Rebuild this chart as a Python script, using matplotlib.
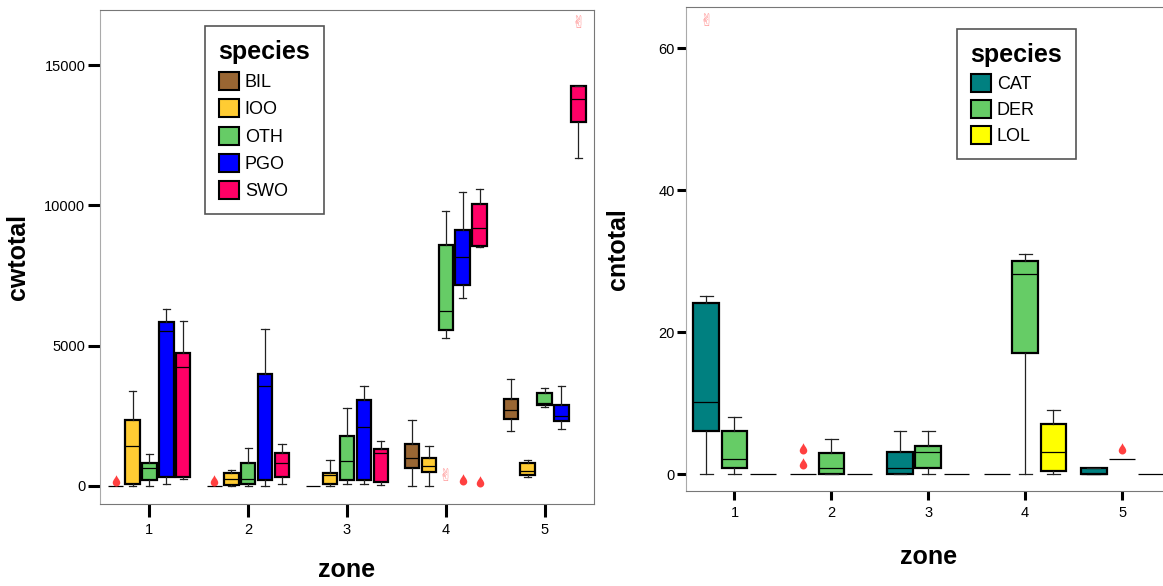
import matplotlib
matplotlib.use("Agg")
import matplotlib.pyplot as plt
from matplotlib.patches import Patch
from matplotlib.path import Path

plt.rcParams['font.family'] = ['Liberation Sans', 'DejaVu Sans']

zones = [1, 2, 3, 4, 5]

# left chart (cwtotal), one row per zone: [whislo, q1, med, q3, whishi]
cw_species = ["BIL", "IOO", "OTH", "PGO", "SWO"]
cw_colors = ["#996633", "#ffcc33", "#66cc66", "#0000ff", "#ff0066"]
cw_bil = [[0, 0, 0, 0, 0], [0, 0, 0, 0, 0], [0, 0, 0, 0, 0],
          [0, 627, 994, 1493, 2349], [1967, 2395, 2716, 3086, 3799]]
cw_ioo = [[0, 78, 1422, 2338, 3372], [0, 21, 235, 460, 567], [0, 68, 378, 449, 934],
          [0, 506, 709, 1005, 1422], [328, 399, 520, 805, 923]]
cw_oth = [[0, 200, 627, 816, 1126], [0, 78, 257, 816, 1361], [78, 200, 877, 1789, 2766],
          [5271, 5567, 6244, 8575, 9797], [2823, 2873, 2965, 3300, 3500]]
cw_pgo = [[78, 317, 5510, 5831, 6305], [0, 200, 3550, 3977, 5581], [78, 200, 2088, 3072, 3550],
          [6686, 7160, 8147, 9110, 10464], [2017, 2324, 2491, 2873, 3560]]
cw_swo = [[257, 317, 4227, 4737, 5888], [78, 317, 816, 1173, 1483], [21, 139, 1162, 1304, 1611],
          [8514, 8561, 9181, 10036, 10581], [11686, 12959, 13779, 14252, 14252]]
cw_out_zone = [1, 2, 4, 4]
cw_out_species = ["BIL", "BIL", "PGO", "SWO"]
cw_out_value = [164, 164, 210, 150]
cw_ext_zone = [4, 5]
cw_ext_species = ["OTH", "SWO"]
cw_ext_value = [353, 16509]

# right chart (cntotal)
cn_species = ["CAT", "DER", "LOL"]
cn_colors = ["#008080", "#66cc66", "#ffff00"]
cn_cat = [[0, 6.14, 10.14, 24.17, 25.1], [0, 0, 0, 0, 0], [0, 0, 0.93, 3.1, 6.14],
          [0, 0, 0, 0, 0], [0, 0, 0, 0.93, 0.93]]
cn_der = [[0, 0.93, 2.11, 6.14, 8.03], [0, 0, 0.93, 3.04, 4.93], [0, 0.89, 3.1, 3.99, 6.14],
          [0, 17.04, 28.17, 30.04, 30.99], [2.11, 2.11, 2.11, 2.11, 2.11]]
cn_lol = [[0, 0, 0, 0, 0], [0, 0, 0, 0, 0], [0, 0, 0, 0, 0],
          [0, 0.46, 3.1, 7.13, 9.01], [0, 0, 0, 0, 0]]
cn_out_zone = [2, 2, 5]
cn_out_species = ["CAT", "CAT", "DER"]
cn_out_value = [3.52, 1.45, 3.56]
cn_ext_zone = [1]
cn_ext_species = ["CAT"]
cn_ext_value = [63.9]

# droplet shaped marker for outliers
drop = Path([(0, 1), (0.15, 0.6), (0.6, 0.2), (0.6, -0.2),
             (0.6, -0.55), (0.3, -0.8), (0, -0.8),
             (-0.3, -0.8), (-0.6, -0.55), (-0.6, -0.2),
             (-0.6, 0.2), (-0.15, 0.6), (0, 1), (0, 1)],
            [Path.MOVETO] + [Path.CURVE4] * 12 + [Path.CLOSEPOLY])


def offset(species, sp, slot):
    i = species.index(sp)
    return (i - (len(species) - 1) / 2) * slot


def draw_boxes(ax, species, colors, stats, slot, width):
    for sp, col, rows in zip(species, colors, stats):
        off = offset(species, sp, slot)
        for z, (lo, q1, med, q3, hi) in zip(zones, rows):
            x = z + off
            if q1 == q3 and lo == hi:
                ax.hlines(med, x - width / 2, x + width / 2, color='black', lw=0.9, zorder=3)
                continue
            st = dict(whislo=lo, q1=q1, med=med, q3=q3, whishi=hi, fliers=[])
            ax.bxp([st], positions=[x], widths=width, capwidths=width / 2,
                   patch_artist=True, showfliers=False, manage_ticks=False,
                   boxprops=dict(facecolor=col, edgecolor='black', linewidth=1.6),
                   medianprops=dict(color='black', linewidth=0.9),
                   whiskerprops=dict(color='#222222', linewidth=0.9),
                   capprops=dict(color='#222222', linewidth=0.9))


def draw_outliers(ax, species, slot, oz, osp, ov, ez, esp, ev):
    xs = [z + offset(species, s, slot) for z, s in zip(oz, osp)]
    ax.plot(xs, ov, linestyle='none', marker=drop, markersize=9,
            color='#ff4040', markeredgewidth=0, zorder=4)
    for z, s, v in zip(ez, esp, ev):
        ax.text(z + offset(species, s, slot), v, "\u270c", family=['DejaVu Sans'],
                color='#ff9090', fontsize=12, ha='center', va='center', zorder=4)


def style_axis(ax, ylabel, ticklen, xpad):
    ax.set_xlim(0.5, 5.5)
    ax.set_xticks(zones)
    ax.tick_params(axis='both', direction='out', length=ticklen, width=2.2,
                   color='black', labelsize=10.5)
    ax.tick_params(axis='y', pad=1.5)
    ax.tick_params(axis='x', pad=xpad)
    for side in ['top', 'bottom', 'right']:
        ax.spines[side].set_color('#777777')
    ax.spines['left'].set_color('#aaaaaa')
    ax.set_ylabel(ylabel, fontsize=18, fontweight='bold', va='center')
    ax.set_xlabel("zone", fontsize=18, fontweight='bold', va='center')


def add_legend(ax, species, colors, x, y, spacing):
    handles = [Patch(facecolor=c, edgecolor='black', linewidth=1.5, label=s)
               for s, c in zip(species, colors)]
    leg = ax.legend(handles=handles, title="species", loc='upper left',
                    bbox_to_anchor=(x / 1163, 1 - y / 586), bbox_transform=fig.transFigure,
                    borderaxespad=0, fontsize=13,
                    title_fontproperties={'weight': 'bold', 'size': 18},
                    alignment='left', handlelength=1.15, handleheight=1.15,
                    handletextpad=0.3, labelspacing=spacing, borderpad=0.75,
                    fancybox=False, framealpha=1)
    leg.get_frame().set_edgecolor('#555555')
    leg.get_frame().set_linewidth(1.2)


fig = plt.figure(figsize=(11.63, 5.86), dpi=100)
fig.patch.set_facecolor('white')

ax1 = fig.add_axes([100 / 1163, 1 - 504 / 586, 494 / 1163, 494 / 586])
draw_boxes(ax1, cw_species, cw_colors, [cw_bil, cw_ioo, cw_oth, cw_pgo, cw_swo], 0.171, 0.146)
draw_outliers(ax1, cw_species, 0.171, cw_out_zone, cw_out_species, cw_out_value,
              cw_ext_zone, cw_ext_species, cw_ext_value)
ax1.set_ylim(-645, 16961)
ax1.set_yticks([0, 5000, 10000, 15000])
style_axis(ax1, "cwtotal", 9, 5)
ax1.yaxis.set_label_coords(-0.166, 0.5)
ax1.xaxis.set_label_coords(0.5, -(570 - 504) / 494)
add_legend(ax1, cw_species, cw_colors, 205, 26, 0.46)

ax2 = fig.add_axes([686 / 1163, 1 - 490.7 / 586, 484.5 / 1163, 483.4 / 586])
draw_boxes(ax2, cn_species, cn_colors, [cn_cat, cn_der, cn_lol], 0.292, 0.265)
draw_outliers(ax2, cn_species, 0.292, cn_out_zone, cn_out_species, cn_out_value,
              cn_ext_zone, cn_ext_species, cn_ext_value)
ax2.set_ylim(-2.31, 65.77)
ax2.set_yticks([0, 20, 40, 60])
style_axis(ax2, "cntotal", 6.5, 4.5)
ax2.yaxis.set_label_coords(-0.140, 0.5)
ax2.xaxis.set_label_coords(0.5, -(557 - 490.7) / 483.4)
add_legend(ax2, cn_species, cn_colors, 957, 29, 0.4)

fig.savefig("out.png", dpi=100)
